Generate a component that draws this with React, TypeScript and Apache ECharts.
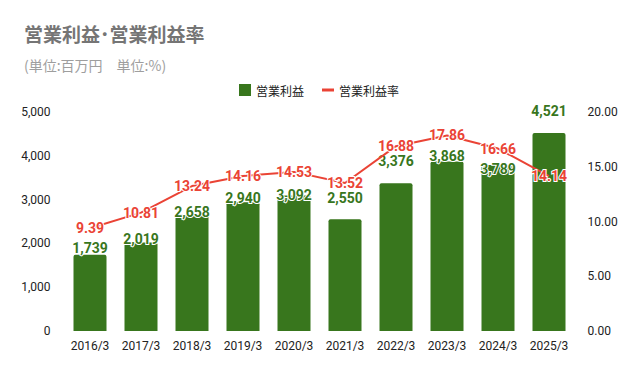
import React, { useEffect, useRef } from "react";
import * as echarts from "echarts";

const categories = ["2016/3", "2017/3", "2018/3", "2019/3", "2020/3", "2021/3", "2022/3", "2023/3", "2024/3", "2025/3"];
const operatingProfit = [1739, 2019, 2658, 2940, 3092, 2550, 3376, 3868, 3789, 4521];
const operatingMargin = [9.39, 10.81, 13.24, 14.16, 14.53, 13.52, 16.88, 17.86, 16.66, 14.14];
const leftTicks = { min: 0, max: 5000, interval: 1000 };
const rightTicks = { min: 0, max: 20, interval: 5 };

// label placement tweaks (style only, not data)
const barLabelShift = [0, 3.5, 4.5, 2.5, 6, -14.5, -15.5, 1, 10.5, -14.5];

const GREEN = "#38761d";
const RED = "#ea4335";
const FONT = "Roboto, 'Noto Sans CJK JP', sans-serif";
const CJK = "'Noto Sans CJK JP', sans-serif";

export default function App() {
  const ref = useRef<HTMLDivElement>(null);
  useEffect(() => {
    if (!ref.current) return;
    const chart = echarts.init(ref.current, undefined, { renderer: "svg" });
    chart.setOption({
      animation: false,
      textStyle: { fontFamily: FONT },
      title: {
        text: "営業利益･営業利益率",
        subtext: "(単位:百万円　単位:%)",
        left: 19,
        top: 19,
        itemGap: 15,
        textStyle: { fontSize: 19, fontWeight: "bold", color: "#757575", fontFamily: CJK },
        subtextStyle: { fontSize: 14, color: "#9e9e9e", fontFamily: CJK },
      },
      legend: {
        top: 79,
        left: "center",
        itemWidth: 12,
        itemHeight: 12,
        itemGap: 18,
        textStyle: { fontSize: 12, color: "#222", fontFamily: CJK },
        data: [
          { name: "営業利益", icon: "rect" },
          { name: "営業利益率", icon: "path://M0,0 H12 V3 H0 Z", itemStyle: { color: RED } },
        ],
      },
      grid: { left: 64.5, right: 63.5, top: 112, bottom: 40 },
      xAxis: {
        type: "category",
        data: categories,
        axisLine: { show: false },
        axisTick: { show: false },
        axisLabel: { color: "#222", fontSize: 12, margin: 9 },
      },
      yAxis: [
        {
          type: "value",
          min: leftTicks.min,
          max: leftTicks.max,
          interval: leftTicks.interval,
          splitLine: { show: false },
          axisLabel: {
            color: "#222",
            fontSize: 12,
            margin: 14,
            formatter: (v: number) => v.toLocaleString("en-US"),
          },
        },
        {
          type: "value",
          min: rightTicks.min,
          max: rightTicks.max,
          interval: rightTicks.interval,
          splitLine: { show: false },
          axisLabel: {
            color: "#222",
            fontSize: 12,
            margin: 13,
            formatter: (v: number) => v.toFixed(2),
          },
        },
      ],
      series: [
        {
          name: "営業利益",
          type: "bar",
          barWidth: 33,
          itemStyle: { color: GREEN, borderRadius: [2, 2, 0, 0] },
          data: operatingProfit.map((v, i) => ({
            value: v,
            label: { offset: [0, barLabelShift[i]] },
          })),
          label: {
            show: true,
            position: "top",
            distance: 0,
            fontSize: 14,
            fontWeight: "bold",
            color: GREEN,
            textBorderColor: "#fff",
            textBorderWidth: 2,
            formatter: (p: any) => Number(p.value).toLocaleString("en-US"),
          },
          z: 2,
        },
        {
          name: "営業利益率",
          type: "line",
          yAxisIndex: 1,
          data: operatingMargin,
          symbol: "circle",
          symbolSize: 0,
          lineStyle: { color: RED, width: 2 },
          itemStyle: { color: RED },
          label: {
            show: true,
            position: "inside",
            fontSize: 14,
            fontWeight: "bold",
            color: RED,
            textBorderColor: "#fff",
            textBorderWidth: 2,
            formatter: (p: any) => Number(p.value).toFixed(2),
          },
          z: 3,
        },
      ],
    });
    return () => chart.dispose();
  }, []);
  return <div ref={ref} style={{ width: 638, height: 371, position: "absolute", left: 0, top: 0 }} />;
}
